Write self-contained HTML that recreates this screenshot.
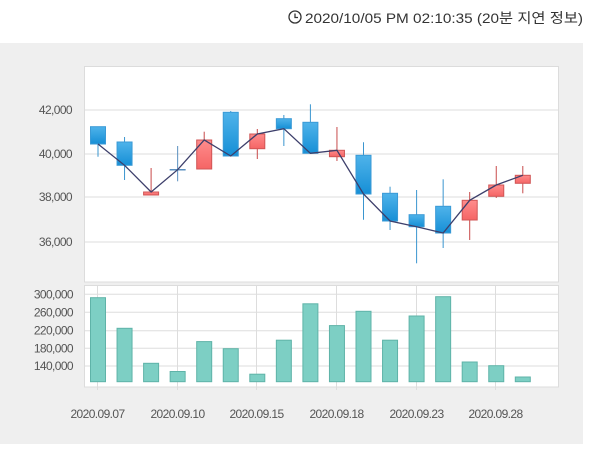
<!DOCTYPE html>
<html><head><meta charset="utf-8"><style>
body{margin:0;width:600px;height:444px;background:#fff;overflow:hidden;font-family:"Liberation Sans","Noto Sans CJK KR",sans-serif;}
</style></head><body>
<svg id="s" width="600" height="444" xmlns="http://www.w3.org/2000/svg" font-family="Liberation Sans, Noto Sans CJK KR, sans-serif">
<defs>
<linearGradient id="gb" x1="0" x2="0" y1="0" y2="1"><stop offset="0" stop-color="#4fb3ea"/><stop offset="1" stop-color="#168fd6"/></linearGradient>
<linearGradient id="gr" x1="0" x2="0" y1="0" y2="1"><stop offset="0" stop-color="#ff8c8c"/><stop offset="1" stop-color="#f56565"/></linearGradient>
</defs>
<rect x="0" y="43" width="583" height="401" fill="#efefef"/>
<circle cx="295" cy="17" r="6" fill="none" stroke="#333" stroke-width="1.3"/>
<path d="M295 13.5V17.5H298" fill="none" stroke="#333" stroke-width="1.3"/>
<text x="305" y="23" font-size="14" fill="#333" textLength="278" lengthAdjust="spacingAndGlyphs">2020/10/05 PM 02:10:35 (20분 지연 정보)</text>
<rect x="84.5" y="66.5" width="474" height="215.5" fill="#fff" stroke="#dcdcdc"/>
<rect x="84.5" y="285.5" width="474" height="101.5" fill="#fff" stroke="#dcdcdc"/>
<g id="g"></g>
</svg>
<script>
var g=document.getElementById('g'),h='';
function L(x1,y1,x2,y2,c,w){h+='<line x1="'+x1+'" y1="'+y1+'" x2="'+x2+'" y2="'+y2+'" stroke="'+c+'" stroke-width="'+(w||1)+'"/>';}
function T(x,y,t,a){h+='<text x="'+x+'" y="'+y+'" font-size="12" fill="#555" letter-spacing="-0.6" text-anchor="'+(a||'end')+'">'+t+'</text>';}
[[110,'42,000'],[154,'40,000'],[197,'38,000'],[242,'36,000']].forEach(function(v){L(85,v[0],558,v[0],'#dddddd');T(72,v[0]+4,v[1]);});
[[294.3,'300,000'],[312.3,'260,000'],[330.7,'220,000'],[348.3,'180,000'],[366,'140,000']].forEach(function(v){L(85,v[0],558,v[0],'#dddddd');T(73,v[0]+4,v[1]);});
var X=function(i){return 98+(i-1)*26.55;};
[[1,'2020.09.07'],[4,'2020.09.10'],[7,'2020.09.15'],[10,'2020.09.18'],[13,'2020.09.23'],[16,'2020.09.28']].forEach(function(v){var x=Math.round(X(v[0]))-0.5;L(x,286,x,390,'#dddddd');T(x,418,v[1],'middle');});
var vt=[297.7,328.3,363.3,371.5,341.6,348.7,374.2,340.2,303.8,325.6,311.3,340.2,316,296.7,362,365.7,377];
vt.forEach(function(t,k){var x=X(k+1);h+='<rect x="'+(x-7.5)+'" y="'+t+'" width="15" height="'+(381.7-t)+'" fill="#7dcfc4" stroke="#5fb3a8" stroke-width="1"/>';});
var c=[[126.7,144,126.7,156.7,'B'],[142,165.3,137,180,'B'],[192,195,168,195,'R'],[169.7,169.7,146,181.3,'X'],[140,169,131.7,169,'R'],[112.3,156,111,156,'B'],[134,148.7,129,159,'R'],[118.7,128.7,115,146,'B'],[122.3,153.3,104.3,153.3,'B'],[150.3,156.7,127,161,'R'],[155.3,194,142.3,219.7,'B'],[193.3,221,186.7,230,'B'],[214.7,226.7,190,263.3,'B'],[206.3,233,179.3,248,'B'],[200.3,220,192,240,'R'],[185,196.3,166,198,'R'],[175.3,183.3,166,193.3,'R']];
var cl=[144,165.3,192,169.7,140,156,134,128.7,153.3,150.3,194,221,226.7,233,200.3,185,175.3];
c.forEach(function(d,k){var x=X(k+1);
 if(d[4]=='X'){L(x,d[2],x,d[3],'#5a8fbf');L(x-8,d[0],x+8,d[0],'#5a8fbf',1.5);return;}
 var col=d[4]=='B'?'#3a95cf':'#c84a4a';L(x,d[2],x,d[3],col);
 h+='<rect x="'+(x-7.5)+'" y="'+d[0]+'" width="15" height="'+Math.max(2,d[1]-d[0])+'" fill="url(#g'+(d[4]=='B'?'b':'r')+')" stroke="'+(d[4]=='B'?'#3a9ad6':'#d05555')+'"/>';});
var p=cl.map(function(y,k){return X(k+1)+','+y;}).join(' ');
h+='<polyline points="'+p+'" fill="none" stroke="#3d3f6b" stroke-width="1.3"/>';
g.innerHTML=h;
</script>
</body></html>
